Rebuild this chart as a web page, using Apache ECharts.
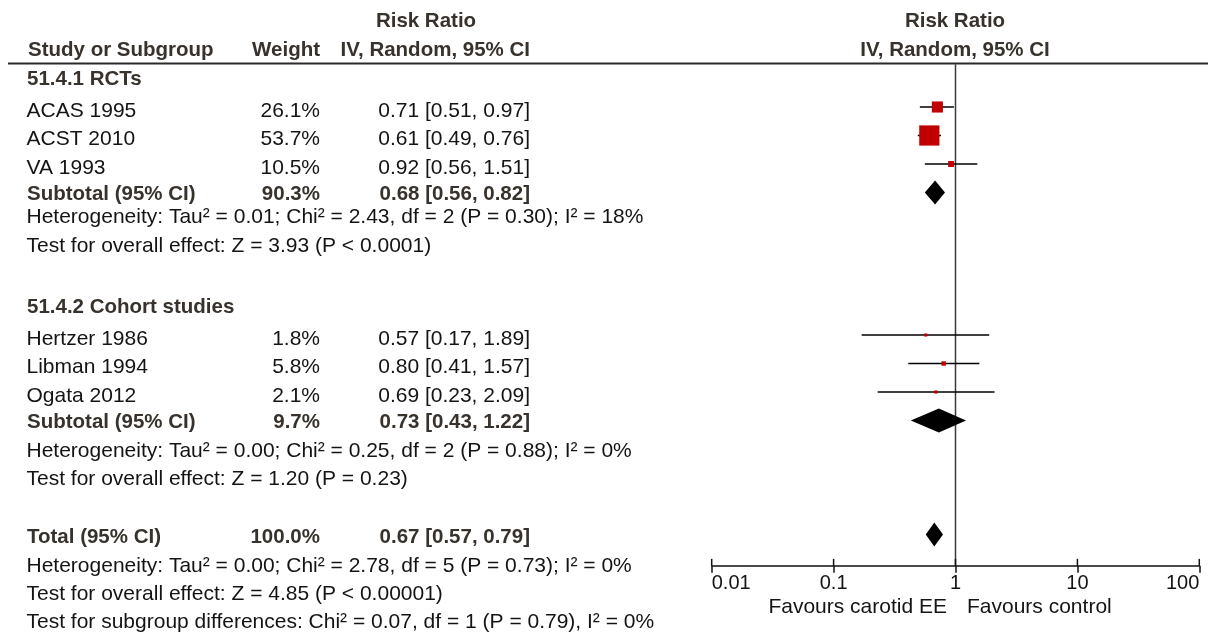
<!DOCTYPE html>
<html>
<head>
<meta charset="utf-8">
<script src="https://cdn.jsdelivr.net/npm/echarts@6/dist/echarts.min.js"></script>
<style>
html,body{margin:0;padding:0;background:#fff;}
#chart{width:1208px;height:639px;}
</style>
</head>
<body>
<div id="chart"></div>
<script>
// ---------------- DATA ----------------
const groupNames = ['51.4.1 RCTs', '51.4.2 Cohort studies'];
const studies = ['ACAS 1995', 'ACST 2010', 'VA 1993', 'Hertzer 1986', 'Libman 1994', 'Ogata 2012'];
const weights = [26.1, 53.7, 10.5, 1.8, 5.8, 2.1];
const rr = [0.71, 0.61, 0.92, 0.57, 0.80, 0.69];
const lo = [0.51, 0.49, 0.56, 0.17, 0.41, 0.23];
const hi = [0.97, 0.76, 1.51, 1.89, 1.57, 2.09];

const pooledLabels = ['Subtotal (95% CI)', 'Subtotal (95% CI)', 'Total (95% CI)'];
const pooledWeights = [90.3, 9.7, 100.0];
const pooledRR = [0.68, 0.73, 0.67];
const pooledLo = [0.56, 0.43, 0.57];
const pooledHi = [0.82, 1.22, 0.79];

const hetTexts = [
  'Heterogeneity: Tau\u00B2 = 0.01; Chi\u00B2 = 2.43, df = 2 (P = 0.30); I\u00B2 = 18%',
  'Heterogeneity: Tau\u00B2 = 0.00; Chi\u00B2 = 0.25, df = 2 (P = 0.88); I\u00B2 = 0%',
  'Heterogeneity: Tau\u00B2 = 0.00; Chi\u00B2 = 2.78, df = 5 (P = 0.73); I\u00B2 = 0%'
];
const effectTexts = [
  'Test for overall effect: Z = 3.93 (P < 0.0001)',
  'Test for overall effect: Z = 1.20 (P = 0.23)',
  'Test for overall effect: Z = 4.85 (P < 0.00001)'
];
const subgroupText = 'Test for subgroup differences: Chi\u00B2 = 0.07, df = 1 (P = 0.79), I\u00B2 = 0%';

const headerTexts = ['Study or Subgroup', 'Weight', 'Risk Ratio', 'IV, Random, 95% CI'];
const favourLabels = ['Favours carotid EE', 'Favours control'];
const tickValues = [0.01, 0.1, 1, 10, 100];
const tickLabels = ['0.01', '0.1', '1', '10', '100'];

// ---------------- LAYOUT ----------------
const ROW0 = 78.5, ROWH = 28.5;
const studyRows = [1, 2, 3, 9, 10, 11];
const pooledRows = [4, 12, 16];
const yMin = -0.5, yMax = 17.1;
const gridTop = ROW0 + ROWH * yMin;
const gridBottomPx = ROW0 + ROWH * yMax;

const FONT = '"Liberation Sans", Arial, Helvetica, sans-serif';
const REG = '21px ' + FONT;
const BOLD = 'bold 20.5px ' + FONT;
const REG_COL = '#141414';
const BOLD_COL = '#38322c';

const fmtCI = (e, l, h) => e.toFixed(2) + ' [' + l.toFixed(2) + ', ' + h.toFixed(2) + ']';
const fmtW = w => w.toFixed(1) + '%';

const XNAME = 26.5, XWEIGHT = 320, XCI = 530;

function txt(text, x, y, bold, align) {
  return {
    type: 'text', silent: true,
    style: { text: text, x: x, y: y, font: bold ? BOLD : REG, fill: bold ? BOLD_COL : REG_COL,
             align: align || 'left', verticalAlign: 'middle' }
  };
}

const g = [];
// header
g.push(txt(headerTexts[2], 426, 21.7, true, 'center'));
g.push(txt(headerTexts[0], 28, 50.8, true, 'left'));
g.push(txt(headerTexts[1], XWEIGHT, 50.8, true, 'right'));
g.push(txt(headerTexts[3], XCI, 50.8, true, 'right'));
g.push(txt(headerTexts[2], 955, 21.7, true, 'center'));
g.push(txt(headerTexts[3], 955, 50.8, true, 'center'));
g.push({ type: 'line', silent: true, shape: { x1: 8, y1: 63.5, x2: 1208, y2: 63.5 },
         style: { stroke: '#2a2a2a', lineWidth: 2 } });

// group headings
const groupY = [79, 307.5];
groupNames.forEach((n, i) => g.push(txt(n, 27, groupY[i], true)));

// studies
studies.forEach((s, i) => {
  const y = ROW0 + ROWH * studyRows[i] + 3.8;
  g.push(txt(s, XNAME, y, false));
  g.push(txt(fmtW(weights[i]), XWEIGHT, y, false, 'right'));
  g.push(txt(fmtCI(rr[i], lo[i], hi[i]), XCI, y, false, 'right'));
});

// pooled rows
const pooledY = [194.2, 422.5, 537.5];
pooledLabels.forEach((s, i) => {
  g.push(txt(s, 27, pooledY[i], true));
  g.push(txt(fmtW(pooledWeights[i]), XWEIGHT, pooledY[i], true, 'right'));
  g.push(txt(fmtCI(pooledRR[i], pooledLo[i], pooledHi[i]), XCI, pooledY[i], true, 'right'));
});

// heterogeneity/effect lines
const hetY = [217.5, 450.8, 565.8];
const effY = [245.8, 479.2, 594.2];
hetTexts.forEach((t, i) => g.push(txt(t, XNAME, hetY[i], false)));
effectTexts.forEach((t, i) => g.push(txt(t, XNAME, effY[i], false)));
g.push(txt(subgroupText, XNAME, 622.5, false));

// favours labels
g.push(txt(favourLabels[0], 947, 607.5, false, 'right'));
g.push(txt(favourLabels[1], 967, 607.5, false, 'left'));

// ---------------- SERIES DATA ----------------
const whiskerData = studies.map((s, i) => [lo[i], hi[i], studyRows[i]]);
const squareData = studies.map((s, i) => [rr[i], studyRows[i], weights[i]]);
const diamondData = pooledRR.map((e, i) => [pooledLo[i], e, pooledHi[i], pooledRows[i]]);
const upTickData = tickValues.map(v => [v, yMax]);

const chart = echarts.init(document.getElementById('chart'), null, { renderer: 'canvas' });

chart.setOption({
  animation: false,
  backgroundColor: '#fff',
  grid: { left: 711.7, right: 1208 - 1199.3, top: gridTop, bottom: 639 - gridBottomPx, containLabel: false },
  xAxis: {
    type: 'log', logBase: 10, min: 0.01, max: 100,
    splitLine: { show: false }, minorTick: { show: false },
    position: 'bottom',
    axisLine: { show: true, onZero: false, lineStyle: { color: '#111', width: 1.5 } },
    axisTick: { show: true, inside: false, length: 7, lineStyle: { color: '#111', width: 1.5 } },
    axisLabel: {
      show: true, margin: 8, color: REG_COL, fontSize: 20, fontFamily: FONT,
      alignMinLabel: 'left', alignMaxLabel: 'right',
      formatter: v => {
        const k = tickValues.findIndex(t => Math.abs(Math.log10(t) - Math.log10(v)) < 1e-6);
        return k >= 0 ? tickLabels[k] : '';
      }
    }
  },
  yAxis: { type: 'value', inverse: true, min: yMin, max: yMax, show: false },
  series: [
    {
      type: 'line', data: [[1, yMin], [1, yMax]], symbol: 'none', silent: true,
      lineStyle: { color: '#3a3a3a', width: 1.5 }, z: 1
    },
    {
      // upward half of the axis ticks
      type: 'custom', data: upTickData, z: 2, silent: true, clip: false,
      encode: { x: 0, y: 1 },
      renderItem: (params, api) => {
        const p = api.coord([api.value(0), api.value(1)]);
        return { type: 'line', shape: { x1: p[0], y1: p[1] - 7, x2: p[0], y2: p[1] },
                 style: { stroke: '#111', lineWidth: 1.5 } };
      }
    },
    {
      type: 'custom', data: whiskerData, z: 2, silent: true,
      encode: { x: [0, 1], y: 2 },
      renderItem: (params, api) => {
        const a = api.coord([api.value(0), api.value(2)]);
        const b = api.coord([api.value(1), api.value(2)]);
        return { type: 'line', shape: { x1: a[0], y1: a[1], x2: b[0], y2: b[1] },
                 style: { stroke: '#000', lineWidth: 1.5 } };
      }
    },
    {
      type: 'scatter', data: squareData, z: 3, silent: true,
      symbol: 'rect',
      symbolSize: v => 2.5 + 0.33 * v[2],
      itemStyle: { color: '#c00000', opacity: 1 }
    },
    {
      type: 'custom', data: diamondData, z: 3, silent: true,
      encode: { x: [0, 1, 2], y: 3 },
      renderItem: (params, api) => {
        const y = api.value(3);
        const L = api.coord([api.value(0), y]);
        const C = api.coord([api.value(1), y]);
        const R = api.coord([api.value(2), y]);
        const h = 12;
        return { type: 'polygon',
                 shape: { points: [[L[0], C[1]], [C[0], C[1] - h], [R[0], C[1]], [C[0], C[1] + h]] },
                 style: { fill: '#000' } };
      }
    }
  ],
  graphic: g
});
</script>
</body>
</html>
